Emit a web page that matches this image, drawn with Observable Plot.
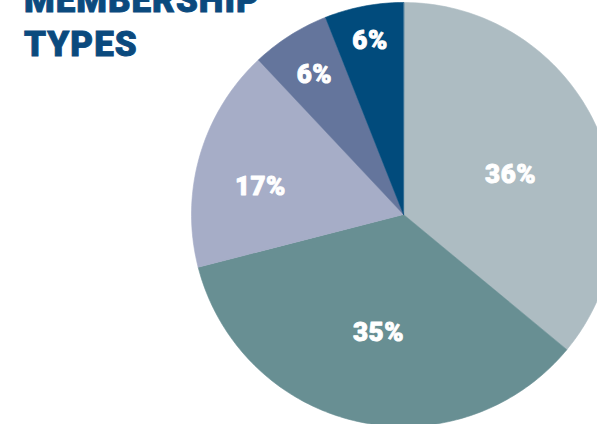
<!DOCTYPE html>
<html>
<head>
<meta charset="utf-8">
<script src="https://cdn.jsdelivr.net/npm/d3@7"></script>
<script src="https://cdn.jsdelivr.net/npm/@observablehq/plot@0.6"></script>
<style>
  html, body { margin: 0; padding: 0; background: #fff; overflow: hidden; width: 597px; height: 424px; }
  #wrap { position: relative; width: 597px; height: 424px; }
  #title { position: absolute; left: 24px; top: -21.5px; margin: 0; font-family: Roboto, sans-serif; font-weight: 900;
           font-size: 35px; line-height: 44px; color: #0b4a7e; letter-spacing: 1px; z-index: 2;
           -webkit-text-stroke: 0.9px #0b4a7e; }
  #chart { position: absolute; left: 0; top: 0; }
</style>
</head>
<body>
<div id="wrap">
  <div id="chart"></div>
  <h1 id="title">MEMBERSHIP<br>TYPES</h1>
</div>
<script>
const categories = ["Type A", "Type B", "Type C", "Type D", "Type E"];
const shares = [36, 35, 17, 6, 6];
const labels = ["36%", "35%", "17%", "6%", "6%"];
const colors = ["#adbcc2", "#688f93", "#a6adc7", "#64759c", "#014b7c"];
// label placement in pie-radius units (layout only)
const labelX = [0.505, -0.118, -0.675, -0.42, -0.158];
const labelY = [0.193, -0.552, 0.137, 0.665, 0.825];

const arcs = d3.pie().sort(null)(shares);
const outline = [];
const labelPts = [];
arcs.forEach((a, i) => {
  const key = categories[i];
  outline.push({key, x: 0, y: 0});
  const steps = Math.max(2, Math.ceil((a.endAngle - a.startAngle) / (Math.PI / 180)));
  for (let s = 0; s <= steps; s++) {
    const t = a.startAngle + (a.endAngle - a.startAngle) * s / steps;
    outline.push({key, x: Math.sin(t), y: Math.cos(t)});
  }
  labelPts.push({key, text: labels[i], x: labelX[i], y: labelY[i]});
});

const chart = Plot.plot({
  width: 597,
  height: 424,
  margin: 0,
  style: {background: "transparent", overflow: "hidden"},
  x: {domain: [-1, 1], range: [191, 615], axis: null},
  y: {domain: [-1, 1], range: [426, 2], axis: null},
  color: {domain: categories, range: colors},
  marks: [
    Plot.line(outline, {x: "x", y: "y", z: "key", fill: "key", stroke: "key", strokeWidth: 0.6, curve: "linear-closed"}),
    Plot.text(labelPts, {x: "x", y: "y", text: "text", fill: "white", stroke: "white", strokeWidth: 0.9,
      fontSize: 26, fontWeight: 900, fontFamily: "Roboto, sans-serif", dy: 1})
  ]
});
chart.querySelectorAll("text").forEach(t => t.setAttribute("letter-spacing", "0.5"));
document.getElementById("chart").appendChild(chart);
</script>
</body>
</html>
